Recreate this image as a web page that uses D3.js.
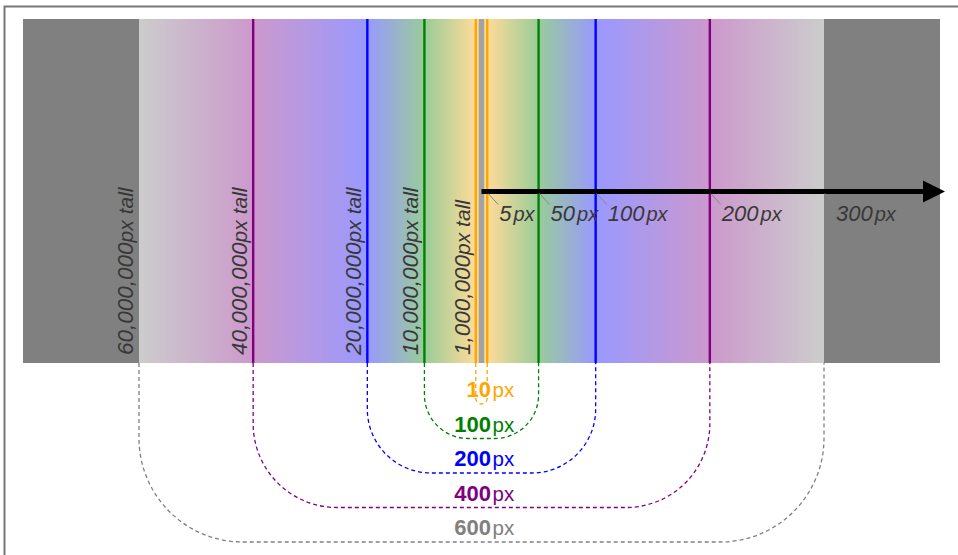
<!DOCTYPE html>
<html>
<head>
<meta charset="utf-8">
<script src="https://cdn.jsdelivr.net/npm/d3@7"></script>
<style>
body { margin: 0; background: #fff; }
text { font-family: "Liberation Sans", Helvetica, Arial, sans-serif; }
</style>
</head>
<body>
<div id="chart"></div>
<script>
// Data
var series = ['orange', 'green', 'blue', 'purple', 'gray'];
var halfWidths = [5, 50, 100, 200, 300];
var widths = [10, 100, 200, 400, 600];
var tallValues = [1000000, 10000000, 20000000, 40000000, 60000000];
var arrowTicks = [5, 50, 100, 200, 300];

// Base
var width = 958, height = 555;
var band = {left: 23, right: 940, top: 19, bottom: 363};

var svg = d3.select('#chart').append('svg')
    .attr('width', width)
    .attr('height', height);

var xScale = d3.scaleLinear().domain([-300, 300]).range([139, 824]);
var color = d3.scaleOrdinal().domain(series)
    .range(['#ffa500', '#008000', '#0000ff', '#800080', '#808080']);
var yLegend = d3.scaleLinear().domain([0, series.length - 1]).range([404, 542]);
var fmt = d3.format(',');
var maxHalf = d3.max(halfWidths);

// page frame
svg.append('path')
    .attr('d', 'M4.5,' + height + ' V6.5 H' + width)
    .attr('fill', 'none')
    .attr('stroke', '#777')
    .attr('stroke-width', 2);

// gradient
var stops = [];
series.forEach(function(s, i) {
    stops.push({pos: -halfWidths[i], c: color(s)});
    stops.push({pos: halfWidths[i], c: color(s)});
});
stops.sort(function(a, b) { return a.pos - b.pos; });

var grad = svg.append('defs').append('linearGradient')
    .attr('id', 'fade')
    .attr('gradientUnits', 'userSpaceOnUse')
    .attr('x1', xScale(-maxHalf)).attr('x2', xScale(maxHalf))
    .attr('y1', 0).attr('y2', 0);
grad.selectAll('stop')
    .data(stops)
    .enter()
    .append('stop')
    .attr('offset', function(d) { return (d.pos + maxHalf) / (2 * maxHalf); })
    .attr('stop-color', function(d) { return d.c; })
    .attr('stop-opacity', 0.4);

// dark sides
svg.append('rect')
    .attr('x', band.left).attr('y', band.top)
    .attr('width', xScale(-maxHalf) - band.left)
    .attr('height', band.bottom - band.top)
    .style('fill', '#808080');
svg.append('rect')
    .attr('x', xScale(maxHalf)).attr('y', band.top)
    .attr('width', band.right - xScale(maxHalf))
    .attr('height', band.bottom - band.top)
    .style('fill', '#808080');
svg.append('rect')
    .attr('x', xScale(-maxHalf)).attr('y', band.top)
    .attr('width', xScale(maxHalf) - xScale(-maxHalf))
    .attr('height', band.bottom - band.top)
    .style('fill', 'url(#fade)');

// center strip
svg.append('rect')
    .attr('x', xScale(0) - 2.75).attr('y', band.top)
    .attr('width', 5.5)
    .attr('height', band.bottom - band.top)
    .style('fill', '#a2a2a2');

// vertical lines
var lineData = [];
series.forEach(function(s, i) {
    if (halfWidths[i] < maxHalf) {
        lineData.push({x: -halfWidths[i], s: s});
        lineData.push({x: halfWidths[i], s: s});
    }
});
svg.selectAll('.vline')
    .data(lineData)
    .enter()
    .append('line')
    .attr('class', 'vline')
    .attr('x1', function(d) { return xScale(d.x); })
    .attr('x2', function(d) { return xScale(d.x); })
    .attr('y1', band.top).attr('y2', band.bottom)
    .attr('stroke', function(d) { return color(d.s); })
    .attr('stroke-width', 2.4);

// tall labels
var tall = svg.selectAll('.tall')
    .data(series)
    .enter()
    .append('text')
    .attr('class', 'tall')
    .attr('transform', function(d, i) {
        return 'translate(' + (xScale(-halfWidths[i]) - 6) + ',355) rotate(-90)';
    })
    .style('font-style', 'italic')
    .style('fill', '#383838');
tall.append('tspan')
    .style('font-size', '22.5px')
    .text(function(d, i) { return fmt(tallValues[i]); });
tall.append('tspan')
    .style('font-size', '21px')
    .text('px tall');

// arrow
var arrowY = 191.5, tipX = band.right + 5;
svg.append('line')
    .attr('x1', xScale(0)).attr('x2', tipX - 18)
    .attr('y1', arrowY).attr('y2', arrowY)
    .attr('stroke', '#000')
    .attr('stroke-width', 5);
svg.append('path')
    .attr('d', 'M' + tipX + ',' + arrowY + ' L' + (tipX - 22) + ',' + (arrowY - 11) +
        ' L' + (tipX - 22) + ',' + (arrowY + 11) + ' Z')
    .style('fill', '#000');

// arrow tick labels
svg.selectAll('.leader')
    .data(arrowTicks)
    .enter()
    .append('line')
    .attr('class', 'leader')
    .attr('x1', function(d) { return xScale(d) + 1; })
    .attr('x2', function(d) { return xScale(d) + 11; })
    .attr('y1', arrowY + 2).attr('y2', arrowY + 13)
    .attr('stroke', '#888')
    .attr('stroke-width', 1);
var tick = svg.selectAll('.tick')
    .data(arrowTicks)
    .enter()
    .append('text')
    .attr('class', 'tick')
    .attr('x', function(d) { return xScale(d) + 12; })
    .attr('y', 221)
    .style('font-style', 'italic')
    .style('fill', '#383838');
tick.append('tspan').style('font-size', '22px').text(function(d) { return d; });
tick.append('tspan').attr('dx', 2).style('font-size', '20px').text('px');

// width brackets
svg.selectAll('.bracket')
    .data(series)
    .enter()
    .append('path')
    .attr('class', 'bracket')
    .attr('d', function(d, i) {
        var xl = xScale(-halfWidths[i]), xr = xScale(halfWidths[i]);
        var yb = yLegend(i);
        var r = Math.min((xr - xl) / 2, (yb - band.bottom) * 0.58);
        return 'M' + xl + ',' + band.bottom + ' V' + (yb - r) +
            ' A' + r + ',' + r + ' 0 0 0 ' + (xl + r) + ',' + yb +
            ' H' + (xr - r) +
            ' A' + r + ',' + r + ' 0 0 0 ' + xr + ',' + (yb - r) +
            ' V' + band.bottom;
    })
    .attr('fill', 'none')
    .attr('stroke', function(d) { return color(d); })
    .attr('stroke-width', 1.3)
    .attr('stroke-dasharray', '4,3');

// width labels
svg.selectAll('.wnum')
    .data(series)
    .enter()
    .append('text')
    .attr('class', 'wnum')
    .attr('x', xScale(0) + 9.5)
    .attr('y', function(d, i) { return yLegend(i) - 7; })
    .attr('text-anchor', 'end')
    .style('font-size', '22px')
    .style('font-weight', 'bold')
    .style('fill', function(d) { return color(d); })
    .text(function(d, i) { return widths[i]; });
svg.selectAll('.wpx')
    .data(series)
    .enter()
    .append('text')
    .attr('class', 'wpx')
    .attr('x', xScale(0) + 11)
    .attr('y', function(d, i) { return yLegend(i) - 7; })
    .style('font-size', '20.5px')
    .style('fill', function(d) { return color(d); })
    .text('px');
</script>
</body>
</html>
